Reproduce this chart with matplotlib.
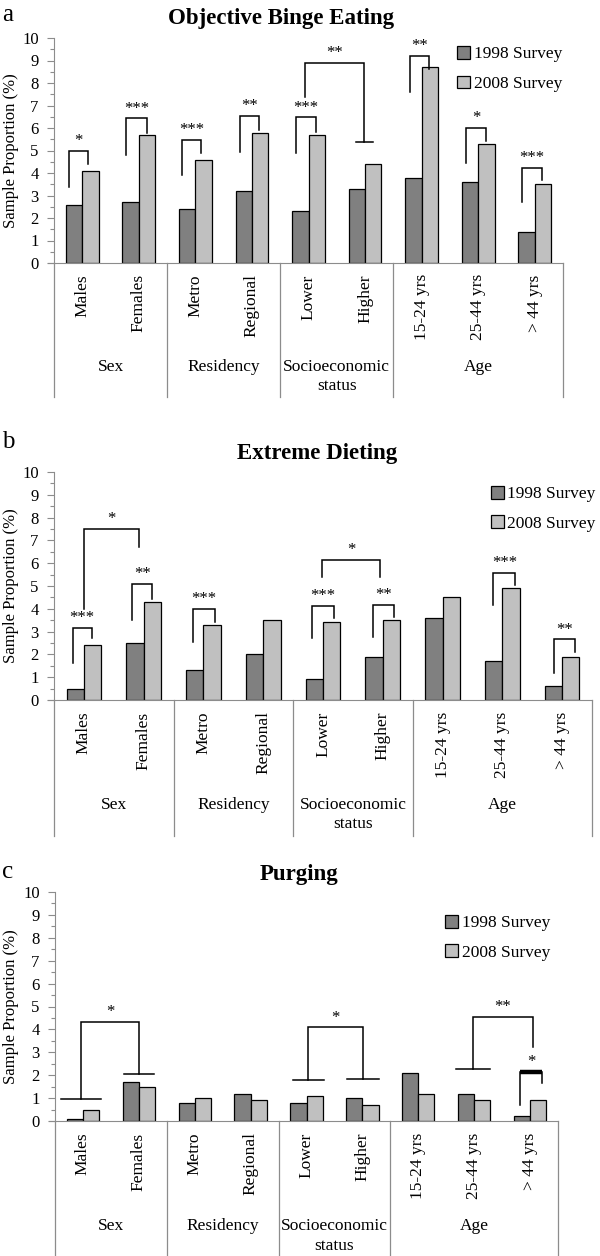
import numpy as np
import matplotlib
matplotlib.use("Agg")
import matplotlib.pyplot as plt

plt.rcParams['font.family'] = ['Liberation Serif', 'DejaVu Serif']

categories = ["Males", "Females", "Metro", "Regional", "Lower", "Higher",
              "15-24 yrs", "25-44 yrs", "> 44 yrs"]
groups = ["Sex", "Residency", "Socioeconomic\nstatus", "Age"]
group_edges = [0, 2, 4, 6, 9]
series_names = ["1998 Survey", "2008 Survey"]

titles = ["Objective Binge Eating", "Extreme Dieting", "Purging"]
panel_letters = ["a", "b", "c"]

binge_1998 = [2.6, 2.7, 2.4, 3.2, 2.3, 3.3, 3.8, 3.6, 1.4]
binge_2008 = [4.1, 5.7, 4.6, 5.8, 5.7, 4.4, 8.7, 5.3, 3.5]
diet_1998 = [0.5, 2.5, 1.3, 2.0, 0.9, 1.9, 3.6, 1.7, 0.6]
diet_2008 = [2.4, 4.3, 3.3, 3.5, 3.4, 3.5, 4.5, 4.9, 1.9]
purge_1998 = [0.1, 1.7, 0.8, 1.2, 0.8, 1.0, 2.1, 1.2, 0.2]
purge_2008 = [0.5, 1.5, 1.0, 0.9, 1.1, 0.7, 1.2, 0.9, 0.9]

# significance brackets: x left, x right, y left end, y right end, top, stars
binge_brackets = [
    (0.26, 0.61, 3.40, 4.40, 4.98, "*"),
    (1.28, 1.64, 4.80, 5.79, 6.43, "***"),
    (2.26, 2.60, 3.91, 4.90, 5.47, "***"),
    (3.28, 3.63, 4.95, 5.91, 6.53, "**"),
    (4.28, 4.63, 4.87, 5.83, 6.47, "***"),
    (4.43, 5.49, 7.39, 5.39, 8.89, "**"),
    (6.29, 6.63, 7.61, 8.61, 9.20, "**"),
    (7.29, 7.64, 4.43, 5.42, 6.01, "*"),
    (8.28, 8.63, 2.69, 3.69, 4.24, "***"),
]
diet_brackets = [
    (0.31, 0.63, 1.61, 2.70, 3.17, "***"),
    (0.50, 1.42, 3.99, 6.72, 7.49, "*"),
    (1.31, 1.64, 3.50, 4.45, 5.08, "**"),
    (2.32, 2.69, 2.55, 3.43, 3.99, "***"),
    (4.31, 4.68, 2.70, 3.58, 4.12, "***"),
    (4.49, 5.46, 5.40, 5.40, 6.16, "*"),
    (5.34, 5.69, 2.77, 3.65, 4.16, "**"),
    (7.35, 7.72, 4.16, 5.04, 5.58, "***"),
    (8.36, 8.71, 1.17, 2.09, 2.66, "**"),
]
purge_brackets = [
    (0.47, 1.50, 0.95, 2.05, 4.31, "*"),
    (4.53, 5.51, 1.80, 1.82, 4.09, "*"),
    (7.48, 8.55, 2.27, 3.25, 4.56, "**"),
    (8.32, 8.71, 0.70, 1.65, 2.15, "*"),
]
# end caps on bracket legs: (left half-width, right half-width)
binge_caps = [(0, 0)] * 5 + [(0, 0.15)] + [(0, 0)] * 3
diet_caps = [(0, 0)] * 9
purge_caps = [(0.36, 0.27), (0.28, 0.28), (0.31, 0), (0, 0)]
purge_widths = [1.1, 1.1, 1.1, 3.2]

panels = [
    (binge_1998, binge_2008, binge_brackets, binge_caps, None),
    (diet_1998, diet_2008, diet_brackets, diet_caps, None),
    (purge_1998, purge_2008, purge_brackets, purge_caps, purge_widths),
]

W, H = 600, 1256
# axes boxes in pixels: left, right, top(y=10), bottom(y=0)
boxes = [(54, 563, 38, 263), (54, 592, 472, 700), (55, 558, 892, 1121)]
title_pos = [(281, 24), (317, 459), (299, 880)]
letter_pos = [(2, 21), (2, 448), (2, 878)]
legend_anchor = [(1.012, 0.995), (1.02, 0.97), (0.998, 0.93)]

dark = "#808080"
light = "#c0c0c0"
axis_gray = "#8c8c8c"

fig = plt.figure(figsize=(W / 100, H / 100), dpi=100)

for k, (v98, v08, brackets, caps, widths) in enumerate(panels):
    l, r, t, b = boxes[k]
    ax = fig.add_axes([l / W, 1 - b / H, (r - l) / W, (b - t) / H])
    x = np.arange(len(categories)) + 0.5
    bw = 0.29
    ax.bar(x - bw / 2, v98, bw, color=dark, edgecolor="black", linewidth=0.9,
           label=series_names[0], zorder=2)
    ax.bar(x + bw / 2, v08, bw, color=light, edgecolor="black", linewidth=0.9,
           label=series_names[1], zorder=2)

    ax.set_xlim(0, len(categories))
    ax.set_ylim(0, 10)
    ax.set_yticks(range(0, 11))
    ax.set_yticks(np.arange(0.5, 10, 0.5), minor=True)
    ax.tick_params(axis="y", which="major", length=5, width=0.8, color=axis_gray,
                   labelsize=12, pad=6)
    ax.tick_params(axis="y", which="minor", length=3, width=0.8, color=axis_gray)
    ax.set_xticks([])
    for s in ["top", "right"]:
        ax.spines[s].set_visible(False)
    ax.spines["left"].set_color(axis_gray)
    ax.spines["bottom"].set_color(axis_gray)
    # the category axis runs a little past the value axis
    ax.plot([-6 / (r - l), 0], [0, 0], transform=ax.transAxes, color=axis_gray,
            lw=0.8, clip_on=False)

    trans = ax.get_xaxis_transform()
    for e in group_edges:
        ax.plot([e, e], [0, -0.595], transform=trans, color=axis_gray, lw=0.9,
                clip_on=False)
    for xi, lab in zip(x, categories):
        ax.text(xi, -0.05, lab, transform=trans, rotation=90, ha="center",
                va="top", fontsize=12.5)
    for g, lab in enumerate(groups):
        gx = (group_edges[g] + group_edges[g + 1]) / 2
        ax.text(gx, -0.425, lab, transform=trans, ha="center", va="top",
                fontsize=12.5, linespacing=1.3)

    for j, (x1, x2, y1, y2, top, star) in enumerate(brackets):
        lw = widths[j] if widths else 1.1
        ax.plot([x1, x1, x2, x2], [y1, top, top, y2], color="black", lw=1.1,
                solid_joinstyle="miter", clip_on=False, zorder=3)
        if lw > 1.5:
            ax.plot([x1, x2], [top, top], color="black", lw=lw, clip_on=False,
                    zorder=3, solid_capstyle="butt")
        c1, c2 = caps[j]
        if c1:
            ax.plot([x1 - c1, x1 + c1], [y1, y1], color="black", lw=1.1, zorder=3)
        if c2:
            ax.plot([x2 - c2, x2 + c2], [y2, y2], color="black", lw=1.1, zorder=3)
        ax.text((x1 + x2) / 2, top + 0.08, star, ha="center", va="bottom",
                fontsize=12)

    ax.legend(loc="upper right", bbox_to_anchor=legend_anchor[k], frameon=False,
              fontsize=12.5, handlelength=0.75, handleheight=0.75,
              handletextpad=0.2, labelspacing=0.75, borderaxespad=0)

    fig.text(11 / W, 1 - ((t + b) / 2) / H, "Sample Proportion (%)", rotation=90,
             ha="center", va="center", fontsize=12)
    tx, ty = title_pos[k]
    fig.text(tx / W, 1 - ty / H, titles[k], ha="center", va="baseline",
             fontsize=16.5, fontweight="bold")
    lx, ly = letter_pos[k]
    fig.text(lx / W, 1 - ly / H, panel_letters[k], ha="left", va="baseline",
             fontsize=18)

fig.savefig("out.png", dpi=100, facecolor="white")
